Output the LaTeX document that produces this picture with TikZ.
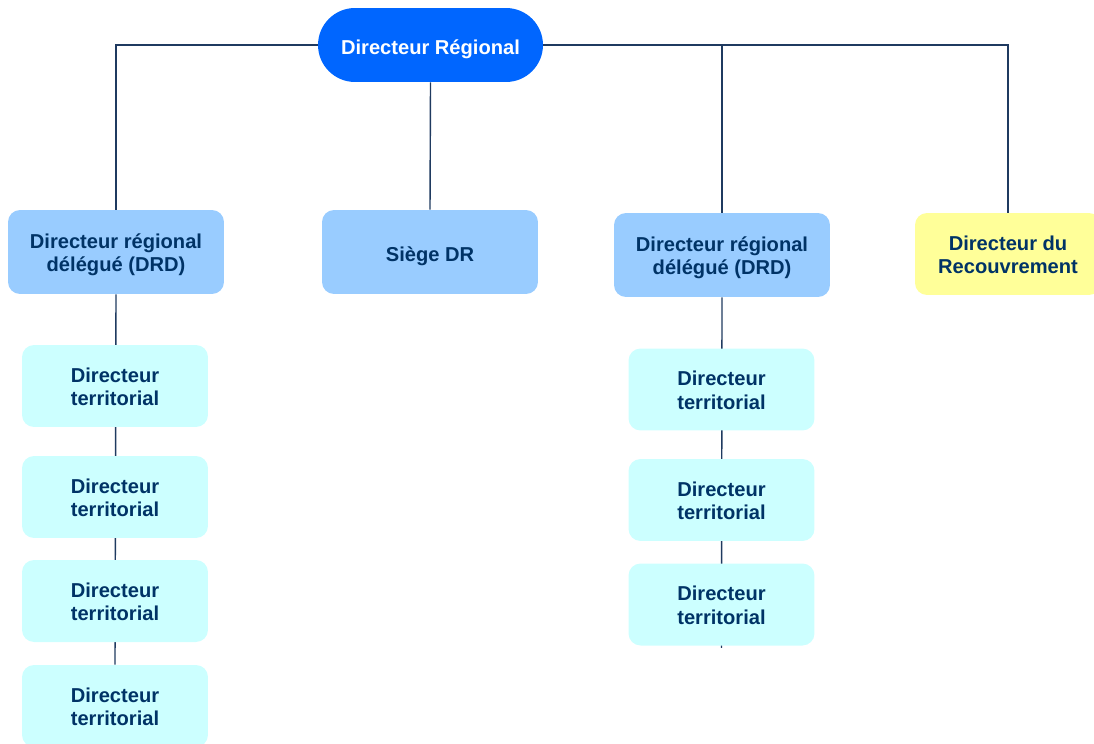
\documentclass[tikz,border=0pt]{standalone}
\usepackage{fontspec}
\setmainfont{Liberation Sans}
\usetikzlibrary{backgrounds}
\definecolor{topblue}{HTML}{0066FF}
\definecolor{drdblue}{HTML}{99CCFF}
\definecolor{terrcyan}{HTML}{CCFFFF}
\definecolor{recyellow}{HTML}{FFFF99}
\definecolor{navy}{HTML}{003366}
\definecolor{linecol}{HTML}{1F3A60}
\newcommand\toprl{\rule{0pt}{11.4pt}}
\newcommand\toprlb{\rule{0pt}{13.4pt}}
\newcommand\botrl{\rule[-2.4pt]{0pt}{2.4pt}}
\begin{document}
\begin{tikzpicture}[x=0.02cm,y=-0.02cm,
  base/.style={align=center, font=\fontsize{11.45}{13.3}\selectfont\bfseries, inner sep=0pt},
  topbox/.style={base, fill=topblue, text=white, rounded corners=0.74cm, minimum width=4.5cm, minimum height=1.48cm},
  drdbox/.style={base, fill=drdblue, text=navy, rounded corners=0.24cm, minimum width=4.32cm, minimum height=1.68cm},
  terrbox/.style={base, fill=terrcyan, text=navy, rounded corners=0.24cm, minimum width=3.72cm, minimum height=1.64cm},
  recbox/.style={base, fill=recyellow, text=navy, rounded corners=0.24cm, minimum width=3.72cm, minimum height=1.64cm},
  link/.style={draw=linecol, line width=0.8pt}]
\path[use as bounding box, clip] (0,0) rectangle (1094,743);
\node[topbox] (dr) at (430.5,45) {\toprlb Directeur Régional\botrl};
\node[drdbox] (drdL) at (116,252) {\toprl Directeur régional\\délégué (DRD)\botrl};
\node[drdbox] (siege) at (430,252) {\toprlb Siège DR\botrl};
\node[drdbox] (drdR) at (722,255) {\toprl Directeur régional\\délégué (DRD)\botrl};
\node[recbox] (rec) at (1008,254) {\toprl Directeur du\\Recouvrement\botrl};
\node[terrbox] (tL1) at (115,386) {\toprl Directeur\\territorial\botrl};
\node[terrbox] (tL2) at (115,497) {\toprl Directeur\\territorial\botrl};
\node[terrbox] (tL3) at (115,601) {\toprl Directeur\\territorial\botrl};
\node[terrbox] (tL4) at (115,706) {\toprl Directeur\\territorial\botrl};
\node[terrbox] (tR1) at (721.5,389.5) {\toprl Directeur\\territorial\botrl};
\node[terrbox] (tR2) at (721.5,500) {\toprl Directeur\\territorial\botrl};
\node[terrbox] (tR3) at (721.5,604.5) {\toprl Directeur\\territorial\botrl};
\begin{scope}[on background layer]
\draw[link] (dr.west) -| (drdL.north);
\draw[link] (dr.east) -| (drdR.north);
\draw[link] (dr.east) -| (rec.north);
\draw[link] (dr.south) -- (siege.north);
\draw[link] (drdL.south) -- (tL4.north);
\draw[link] (drdR.south) -- ([yshift=-0.04cm]tR3.south);
\end{scope}
\end{tikzpicture}
\end{document}
